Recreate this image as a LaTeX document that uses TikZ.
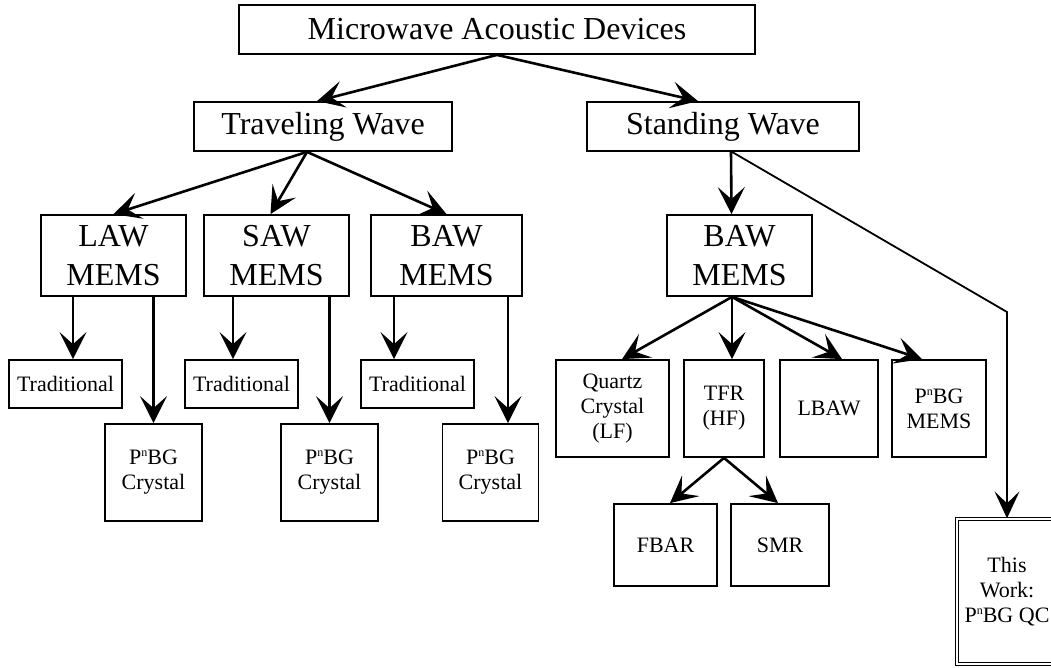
\documentclass[tikz,border=0pt]{standalone}
\usepackage{fontspec}
\setmainfont{Liberation Serif}
\usetikzlibrary{arrows.meta}
\tikzset{
  box/.style={rectangle, draw=black, line width=1.8pt, inner sep=0pt,
              align=center, text centered},
  bigbox/.style={box, font=\fontsize{32}{39}\selectfont},
  smallbox/.style={box, font=\fontsize{22}{25}\selectfont},
  workbox/.style={smallbox, line width=1.3pt, double, double distance=2.2pt},
  arr/.style={-{Stealth[length=27pt, width=27pt, inset=12pt]}, line width=2.6pt},
  thinarr/.style={-{Stealth[length=27pt, width=25pt, inset=12pt]}, line width=1.8pt},
}
\newcommand{\pnbg}{P\raisebox{0.36em}{\fontsize{12}{12}\selectfont n}BG}

\begin{document}
\begin{tikzpicture}[x=1pt, y=-1pt]
\useasboundingbox (0,0) rectangle (1051,667);

% ── top levels ─────────────────────────────────────────────
\node[bigbox, minimum width=516pt, minimum height=49pt] (mad) at (497,29.5)
      {Microwave Acoustic Devices};
\node[bigbox, minimum width=258pt, minimum height=49pt] (tw) at (323,126.5)
      {Traveling Wave};
\node[bigbox, minimum width=272pt, minimum height=49pt] (sw) at (723,126.5)
      {Standing Wave};
\draw[arr] (mad.south) -- ([xshift=-6pt]tw.north);
\draw[arr] (mad.south) -- ([xshift=-25pt]sw.north);

% ── MEMS classes ───────────────────────────────────────────
\node[bigbox, minimum width=145pt, minimum height=81pt] (law) at (113.5,255.5)
      {LAW\\MEMS};
\node[bigbox, minimum width=145pt, minimum height=81pt] (saw) at (276.5,255.5)
      {SAW\\MEMS};
\node[bigbox, minimum width=151pt, minimum height=81pt] (bawl) at (446.5,255.5)
      {BAW\\MEMS};
\node[bigbox, minimum width=145pt, minimum height=81pt] (bawr) at (739.5,255.5)
      {BAW\\MEMS};
\draw[arr] ([xshift=-16pt]tw.south) -- (law.north);
\draw[arr] ([xshift=-16pt]tw.south) -- ([xshift=-6pt]saw.north);
\draw[arr] ([xshift=-16pt]tw.south) -- (bawl.north);
\draw[arr] ([xshift=8pt]sw.south) -- ([xshift=-8pt]bawr.north);

% ── traveling wave leaves ──────────────────────────────────
\node[smallbox, minimum width=113pt, minimum height=48pt] (trad1) at (65.5,384) {Traditional};
\node[smallbox, minimum width=113pt, minimum height=48pt] (trad2) at (241.5,384) {Traditional};
\node[smallbox, minimum width=113pt, minimum height=48pt] (trad3) at (417.5,384) {Traditional};
\node[smallbox, minimum width=97pt, minimum height=97pt] (pc1) at (153.5,472.5) {\pnbg\\Crystal};
\node[smallbox, minimum width=97pt, minimum height=97pt] (pc2) at (329.5,472.5) {\pnbg\\Crystal};
\node[smallbox, minimum width=96pt, minimum height=97pt] (pc3) at (490.5,472.5) {\pnbg\\Crystal};

\draw[arr] ([xshift=7.5pt]trad1.north |- law.south) -- ([xshift=7.5pt]trad1.north);
\draw[arr] (pc1.north |- law.south) -- (pc1.north);
\draw[arr] ([xshift=-8.5pt]trad2.north |- saw.south) -- ([xshift=-8.5pt]trad2.north);
\draw[arr] (pc2.north |- saw.south) -- (pc2.north);
\draw[arr] ([xshift=-23.5pt]trad3.north |- bawl.south) -- ([xshift=-23.5pt]trad3.north);
\draw[arr] ([xshift=17.5pt]pc3.north |- bawl.south) -- ([xshift=17.5pt]pc3.north);

% ── standing wave leaves ───────────────────────────────────
\node[smallbox, minimum width=113pt, minimum height=97pt] (qc) at (612.5,408.5)
      {Quartz\\Crystal\\(LF)};
\node[smallbox, minimum width=80pt, minimum height=97pt] (tfr) at (724,408.5)
      {TFR\\(HF)};
\node[smallbox, minimum width=98pt, minimum height=97pt] (lbaw) at (829,408.5)
      {LBAW};
\node[smallbox, minimum width=94pt, minimum height=97pt] (pmems) at (939,408.5)
      {\pnbg\\MEMS};
\draw[arr] ([xshift=-7.5pt]bawr.south) -- ([xshift=9.5pt]qc.north);
\draw[arr] ([xshift=-7.5pt]bawr.south) -- ([xshift=8pt]tfr.north);
\draw[arr] ([xshift=-7.5pt]bawr.south) -- ([xshift=13pt]lbaw.north);
\draw[arr] ([xshift=-7.5pt]bawr.south) -- ([xshift=-17pt]pmems.north);

\node[smallbox, minimum width=103pt, minimum height=82pt] (fbar) at (665.5,545) {FBAR};
\node[smallbox, minimum width=98pt, minimum height=82pt] (smr) at (780,545) {SMR};
\draw[arr] (tfr.south) -- ([xshift=4.5pt]fbar.north);
\draw[arr] (tfr.south) -- ([xshift=-2pt]smr.north);

% ── this work ──────────────────────────────────────────────
\node[workbox, minimum width=100pt, minimum height=145pt] (work) at (1007,591.5)
      {This\\Work:\\\pnbg{} QC};
\coordinate (bend) at (1007,312);
\draw[thinarr] ([xshift=9pt]sw.south) -- (bend) -- (work.north);

\end{tikzpicture}
\end{document}
